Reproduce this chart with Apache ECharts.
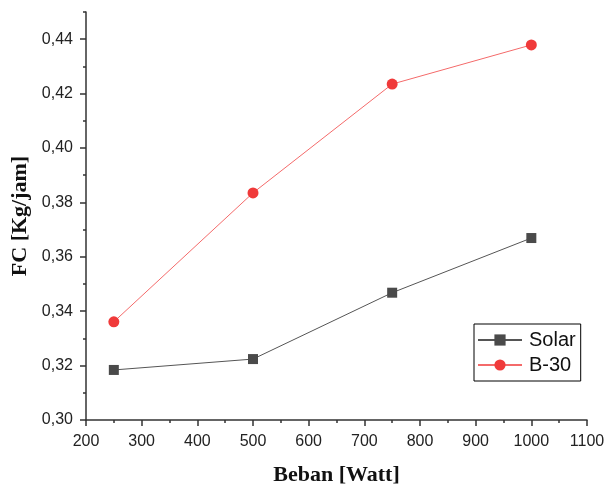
<!DOCTYPE html>
<html><head><meta charset="utf-8">
<script src="https://cdn.jsdelivr.net/npm/echarts@6/dist/echarts.min.js"></script>
<style>html,body{margin:0;padding:0;background:#fff}#c{width:609px;height:489px}</style>
</head><body><div id="c"></div>
<script>
const xValues = [250, 500, 750, 1000];
const solar = [0.3184, 0.3224, 0.3468, 0.3669];
const b30 = [0.3361, 0.3835, 0.4235, 0.4379];
const yMajor = [0.30, 0.32, 0.34, 0.36, 0.38, 0.40, 0.42, 0.44];
const yMinor = [0.31, 0.33, 0.35, 0.37, 0.39, 0.41, 0.43, 0.45];
const seriesNames = ['Solar', 'B-30'];

const chart = echarts.init(document.getElementById('c'), null, {renderer: 'canvas'});
const fmt = v => v.toFixed(2).replace('.', ',');
const tickFont = {fontFamily: 'Liberation Sans, Arial, sans-serif', fontSize: 16, color: '#222'};
const nameFont = {fontFamily: 'Liberation Serif, Times New Roman, serif', fontSize: 22, fontWeight: 'bold', color: '#111'};
chart.setOption({
  animation: false,
  grid: {left: 86, top: 12, right: 22, bottom: 69, containLabel: false, outerBoundsMode: 'none'},
  legend: {
    left: 474, top: 324, orient: 'vertical',
    borderColor: '#000', borderWidth: 1, padding: [6, 5, 6, 3],
    itemGap: 5, itemWidth: 44, itemHeight: 14,
    textStyle: {fontFamily: 'Liberation Sans, Arial, sans-serif', fontSize: 20, color: '#111', padding: [0, 0, 0, 2]},
    data: seriesNames
  },
  xAxis: {
    type: 'value', min: 200, max: 1100, interval: 100,
    name: 'Beban [Watt]', nameLocation: 'middle', nameGap: 44, nameTextStyle: nameFont,
    axisLine: {lineStyle: {color: '#333', width: 1.5}},
    axisTick: {inside: false, length: 6, lineStyle: {color: '#333', width: 1.5}},
    minorTick: {show: true, splitNumber: 2, length: 3, lineStyle: {color: '#333', width: 1.5}},
    axisLabel: {margin: 14, formatter: v => String(v), ...tickFont},
    splitLine: {show: false}
  },
  yAxis: [{
    type: 'value', min: 0.30, max: 0.45,
    name: 'FC [Kg/jam]', nameLocation: 'middle', nameGap: 49, nameTextStyle: nameFont,
    axisLine: {show: true, lineStyle: {color: '#333', width: 1.5}},
    axisTick: {show: true, length: 6, customValues: yMajor, lineStyle: {color: '#333', width: 1.5}},
    axisLabel: {margin: 13, customValues: yMajor, formatter: fmt, ...tickFont},
    splitLine: {show: false}
  }, {
    type: 'value', min: 0.30, max: 0.45, position: 'left',
    axisLine: {show: false},
    axisTick: {show: true, length: 3, customValues: yMinor, lineStyle: {color: '#333', width: 1.5}},
    axisLabel: {show: false},
    splitLine: {show: false}
  }],
  series: [{
    name: seriesNames[0], type: 'line', yAxisIndex: 0,
    data: xValues.map((x, i) => [x, solar[i]]),
    symbol: 'rect', symbolSize: 10,
    itemStyle: {color: '#4a4a4a'},
    lineStyle: {color: '#555', width: 1}
  }, {
    name: seriesNames[1], type: 'line', yAxisIndex: 0,
    data: xValues.map((x, i) => [x, b30[i]]),
    symbol: 'circle', symbolSize: 11,
    itemStyle: {color: '#f03a3a'},
    lineStyle: {color: '#f46a6a', width: 1}
  }]
});
</script></body></html>
